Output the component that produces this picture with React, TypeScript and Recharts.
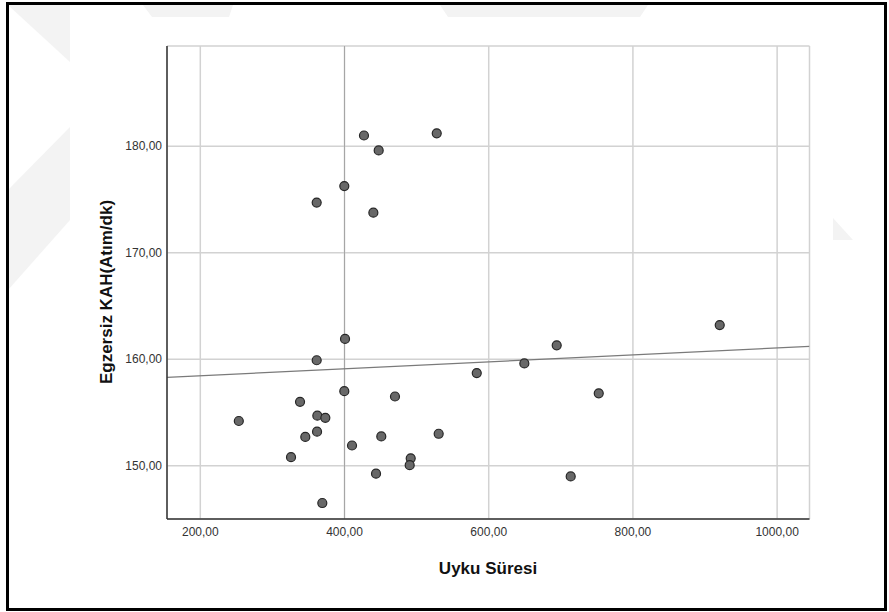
import React from "react";
import { ScatterChart, Scatter, XAxis, YAxis, CartesianGrid, ReferenceLine } from "recharts";

// Uyku Süresi (x) vs Egzersiz KAH (y), one entry per participant
const sleep = [
  427, 527.9, 447.4, 399.7, 361.4, 440,
  400.7, 361.4, 399.7, 338.3, 470, 253.4, 362.3, 373.4, 361.9, 345.6,
  451, 530.6, 410.4, 325.8, 491.8, 490.4, 443.7, 369.2,
  583.4, 649.4, 694.3, 752.6, 713.7, 920.4,
];
const kah = [
  181.0, 181.2, 179.6, 176.25, 174.7, 173.75,
  161.9, 159.9, 157.0, 156.0, 156.5, 154.2, 154.7, 154.5, 153.2, 152.7,
  152.75, 153.0, 151.9, 150.8, 150.7, 150.05, 149.25, 146.5,
  158.7, 159.6, 161.3, 156.8, 149.0, 163.2,
];

const xTicks = [200, 400, 600, 800, 1000];
const yTicks = [150, 160, 170, 180];
const xDomain = [153.8, 1044.9];
const yDomain = [145.0, 189.4];

// linear fit line at the plot edges
const fitX = [153.8, 1044.9];
const fitY = [158.3, 161.2];

const points = sleep.map((x, i) => ({ x, y: kah[i] }));
const fmt = (v: number) => v.toFixed(2).replace(".", ",");
const font = "'Liberation Sans', Arial, sans-serif";

const Dot = (props: any) => (
  <circle cx={props.cx} cy={props.cy} r={4.5} fill="#686868" stroke="#262626" strokeWidth={1.2} />
);

export default function App() {
  return (
    <div style={{ position: "absolute", left: 0, top: 0, width: 889, height: 612, background: "#fff", fontFamily: font }}>
      {/* faint background watermark outside the chart panel */}
      <svg width={889} height={612} style={{ position: "absolute", left: 0, top: 0 }}>
        <polygon points="8,5 70,5 70,62" fill="#f3f3f3" />
        <polygon points="8,190 70,127 70,220 8,290" fill="#f3f3f3" />
        <polygon points="143,5 233,5 229,17 152,17" fill="#f3f3f3" />
        <polygon points="440,5 648,5 640,17 448,17" fill="#f3f3f3" />
        <polygon points="833,218 853,240 833,240" fill="#f3f3f3" />
        <rect x={70} y={17} width={763} height={595} fill="#fff" />
      </svg>

      <div style={{ position: "absolute", left: 0, top: 0 }}>
        <ScatterChart width={889} height={612} margin={{ top: 46, right: 79.5, bottom: 63, left: 107 }}>
          <CartesianGrid stroke="#d2d2d2" strokeWidth={1.5} />
          <XAxis
            type="number"
            dataKey="x"
            domain={xDomain}
            ticks={xTicks}
            allowDataOverflow
            height={30}
            tickFormatter={fmt}
            tickLine={false}
            tickSize={0}
            tickMargin={8}
            tick={{ fontSize: 12, fill: "#333", fontFamily: font }}
            axisLine={{ stroke: "#333", strokeWidth: 1.5 }}
          />
          <YAxis
            type="number"
            dataKey="y"
            domain={yDomain}
            ticks={yTicks}
            allowDataOverflow
            width={60}
            tickFormatter={fmt}
            tickLine={false}
            tickSize={0}
            tickMargin={5}
            tick={{ fontSize: 12, fill: "#333", fontFamily: font }}
            axisLine={{ stroke: "#333", strokeWidth: 1.5 }}
          />
          <ReferenceLine x={400} stroke="#a6a6a6" strokeWidth={1} />
          <ReferenceLine
            segment={[{ x: fitX[0], y: fitY[0] }, { x: fitX[1], y: fitY[1] }]}
            stroke="#7a7a7a"
            strokeWidth={1.2}
            ifOverflow="hidden"
          />
          <Scatter data={points} shape={Dot} isAnimationActive={false} />
        </ScatterChart>
      </div>

      <svg width={889} height={612} style={{ position: "absolute", left: 0, top: 0, pointerEvents: "none" }}>
        <text x={488} y={568} textAnchor="middle" dominantBaseline="central" fontSize={17} fontWeight="bold" fill="#111" fontFamily={font}>
          Uyku Süresi
        </text>
        <text
          x={106}
          y={292}
          textAnchor="middle"
          dominantBaseline="central"
          fontSize={17}
          fontWeight="bold"
          fill="#111"
          fontFamily={font}
          transform="rotate(-90 106 292)"
        >
          Egzersiz KAH(Atım/dk)
        </text>
      </svg>

      <div style={{ position: "absolute", left: 6, top: 2, width: 881, height: 609, boxSizing: "border-box", border: "3px solid #000" }} />
    </div>
  );
}
